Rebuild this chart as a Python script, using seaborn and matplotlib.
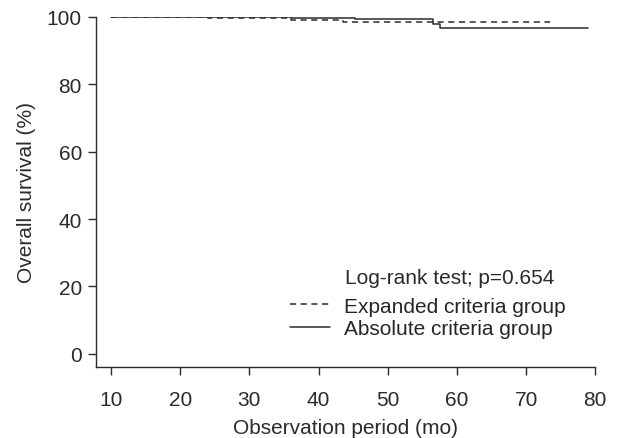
import pandas as pd
import matplotlib
matplotlib.use("Agg")
import matplotlib.pyplot as plt
import seaborn as sns
from matplotlib.lines import Line2D

# Kaplan-Meier step points
expanded_time = [10, 24, 36, 43.5, 73.4]
expanded_surv = [100, 99.6, 99.2, 98.4, 98.4]
absolute_time = [10, 36, 45.3, 56.6, 57.6, 79]
absolute_surv = [100, 99.7, 99.4, 98.0, 96.7, 96.7]

x_ticks = [10, 20, 30, 40, 50, 60, 70, 80]
y_ticks = [0, 20, 40, 60, 80, 100]

sns.set_style("ticks")
plt.rcParams['font.family'] = ['Liberation Sans', 'DejaVu Sans']

fs = 15
ink = "#2b2b2b"

df_exp = pd.DataFrame({"time": expanded_time, "surv": expanded_surv})
df_abs = pd.DataFrame({"time": absolute_time, "surv": absolute_surv})

fig = plt.figure(figsize=(6.22, 4.39), dpi=100)
ax = fig.add_axes([0.154, 0.162, 0.803, 0.797])

sns.lineplot(data=df_exp, x="time", y="surv", ax=ax, color=ink, lw=1.1,
             drawstyle="steps-post", linestyle=(0, (4, 3)))
sns.lineplot(data=df_abs, x="time", y="surv", ax=ax, color=ink, lw=1.1,
             drawstyle="steps-post")

ax.set_xlim(7.8, 80)
ax.set_ylim(-3.9, 100)
ax.set_xticks(x_ticks)
ax.set_yticks(y_ticks)
ax.spines['top'].set_visible(False)
ax.spines['right'].set_visible(False)
for s in ['left', 'bottom']:
    ax.spines[s].set_color(ink)
    ax.spines[s].set_linewidth(1.0)
ax.tick_params(colors=ink, length=6, width=1.0, labelsize=fs)
ax.tick_params(axis='x', pad=11)
ax.tick_params(axis='y', pad=4)

ax.set_xlabel("Observation period (mo)", fontsize=fs, color=ink, labelpad=6)
ax.set_ylabel("Overall survival (%)", fontsize=fs, color=ink, labelpad=8)

# p-value note, placed above the legend
ax.text(0.499, 0.255, "Log-rank test; p=0.654", transform=ax.transAxes,
        fontsize=fs, color=ink, va="center")

handles = [Line2D([0], [0], color=ink, lw=1.1, linestyle=(0, (4, 3))),
           Line2D([0], [0], color=ink, lw=1.1)]
ax.legend(handles, ["Expanded criteria group", "Absolute criteria group"],
          loc="lower left", bbox_to_anchor=(0.389, 0.083), frameon=False,
          fontsize=fs, handlelength=1.9, handletextpad=0.7,
          labelspacing=0.15, borderaxespad=0, borderpad=0)

fig.savefig("out.png", dpi=100)
